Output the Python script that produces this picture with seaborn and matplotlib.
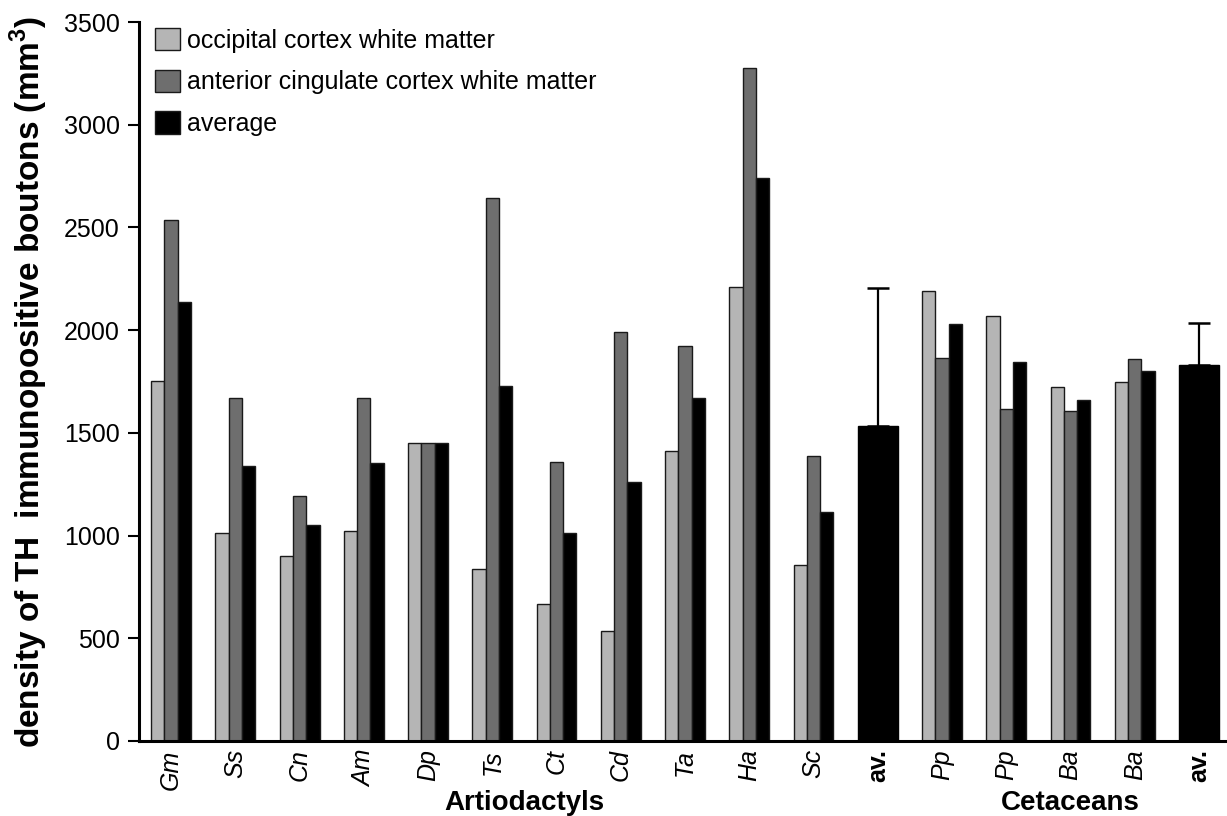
import numpy as np
import pandas as pd
import matplotlib
matplotlib.use("Agg")
import matplotlib.pyplot as plt
from matplotlib.patches import Patch
import seaborn as sns

# ---------------- data ----------------
artio_species = ["Gm", "Ss", "Cn", "Am", "Dp", "Ts", "Ct", "Cd", "Ta", "Ha", "Sc"]
ceta_species = ["Pp", "Pp", "Ba", "Ba"]

artio_occipital = [1754, 1012, 902, 1022, 1449, 839, 669, 535, 1410, 2210, 857]
artio_cingulate = [2537, 1671, 1195, 1671, 1449, 2644, 1356, 1990, 1925, 3275, 1385]
artio_average = [2136, 1341, 1051, 1354, 1449, 1730, 1012, 1260, 1672, 2740, 1117]

ceta_occipital = [2190, 2070, 1725, 1748]
ceta_cingulate = [1865, 1618, 1605, 1860]
ceta_average = [2030, 1845, 1658, 1800]

group_means = [1532, 1830]
group_sd = [673, 205]

group_names = ["Artiodactyls", "Cetaceans"]
av_label = "av."
measures = ["occipital cortex white matter",
            "anterior cingulate cortex white matter",
            "average"]
colors = ["#b5b5b5", "#6e6e6e", "#000000"]
yticks = [0, 500, 1000, 1500, 2000, 2500, 3000, 3500]

# ---------------- build tables ----------------
order, labels, rows, av_rows = [], [], [], []
groups = [(artio_species, artio_occipital, artio_cingulate, artio_average),
          (ceta_species, ceta_occipital, ceta_cingulate, ceta_average)]
group_idx = []
for g, (sp, occ, acc, avg) in enumerate(groups):
    idxs = []
    for i, s in enumerate(sp):
        key = f"{g}-{i}-{s}"
        order.append(key); labels.append(s); idxs.append(len(order) - 1)
        for m, v in zip(measures, (occ[i], acc[i], avg[i])):
            rows.append({"key": key, "measure": m, "value": v})
    key = f"{g}-av"
    order.append(key); labels.append(av_label); idxs.append(len(order) - 1)
    av_rows.append({"key": key, "value": group_means[g], "sd": group_sd[g]})
    group_idx.append(idxs)

df = pd.DataFrame(rows)
av_df = pd.DataFrame(av_rows)

# ---------------- plot ----------------
sns.set_theme(style="white")
plt.rcParams["font.family"] = ["Liberation Sans", "DejaVu Sans"]
plt.rcParams["text.color"] = "black"
plt.rcParams["axes.labelcolor"] = "black"
plt.rcParams["xtick.color"] = "black"
plt.rcParams["ytick.color"] = "black"
plt.rcParams["mathtext.fontset"] = "custom"
plt.rcParams["mathtext.rm"] = "Liberation Sans"
plt.rcParams["mathtext.bf"] = "Liberation Sans:bold"

fig = plt.figure(figsize=(12.27, 8.16), dpi=100)
ax = fig.add_axes([139 / 1227, 1 - 741 / 816, 1 - 139 / 1227, (741 - 22) / 816])

sns.barplot(data=df, x="key", y="value", hue="measure", order=order,
            hue_order=measures, palette=colors, width=0.62, errorbar=None,
            edgecolor="#1a1a1a", linewidth=1.0, ax=ax, legend=False)
sns.barplot(data=av_df, x="key", y="value", order=order, color="#000000",
            width=0.62, errorbar=None, edgecolor="#000000", linewidth=1.0,
            ax=ax)

av_pos = [order.index(k) for k in av_df["key"]]
ax.errorbar(av_pos, av_df["value"], yerr=[np.zeros(len(av_df)), av_df["sd"]],
            fmt="none", ecolor="black", elinewidth=1.6, capsize=8,
            capthick=1.8, zorder=5)

ax.set_xlim(-0.5, len(order) - 1 + 0.436)
ax.set_ylim(0, 3500)
ax.set_yticks(yticks)
ax.set_yticklabels([str(t) for t in yticks], fontsize=18)
ax.set_xticks(range(len(order)))
ax.set_xticklabels(labels, rotation=90, fontsize=18)
for t, lab in zip(ax.get_xticklabels(), labels):
    if lab == av_label:
        t.set_fontweight("bold")
    else:
        t.set_fontstyle("italic")
ax.tick_params(axis="x", length=0, pad=6)
ax.tick_params(axis="y", length=8, width=1.5, direction="out", pad=6,
               left=True, color="black")
ax.set_xlabel("")
ax.set_ylabel(r"density of TH  immunopositive boutons (mm$^{\mathbf{3}}$)",
              fontsize=24, fontweight="bold", labelpad=10)

for side in ["top", "right"]:
    ax.spines[side].set_visible(False)
for side in ["left", "bottom"]:
    ax.spines[side].set_linewidth(2.2)
    ax.spines[side].set_color("black")

# group labels
trans = matplotlib.transforms.blended_transform_factory(ax.transData, fig.transFigure)
for name, idxs in zip(group_names, group_idx):
    ax.text(np.mean(idxs), 1 - 803 / 816, name, transform=trans, ha="center",
            va="center", fontsize=20, fontweight="bold")

handles = [Patch(facecolor=c, edgecolor="#1a1a1a", linewidth=1.0) for c in colors]
ax.legend(handles, measures, loc="upper left", bbox_to_anchor=(0.0147, 0.992),
          frameon=False, fontsize=18, handlelength=1.0, handleheight=1.0,
          handletextpad=0.3, labelspacing=0.68, borderpad=0, borderaxespad=0)

fig.savefig("out.png", dpi=100)
